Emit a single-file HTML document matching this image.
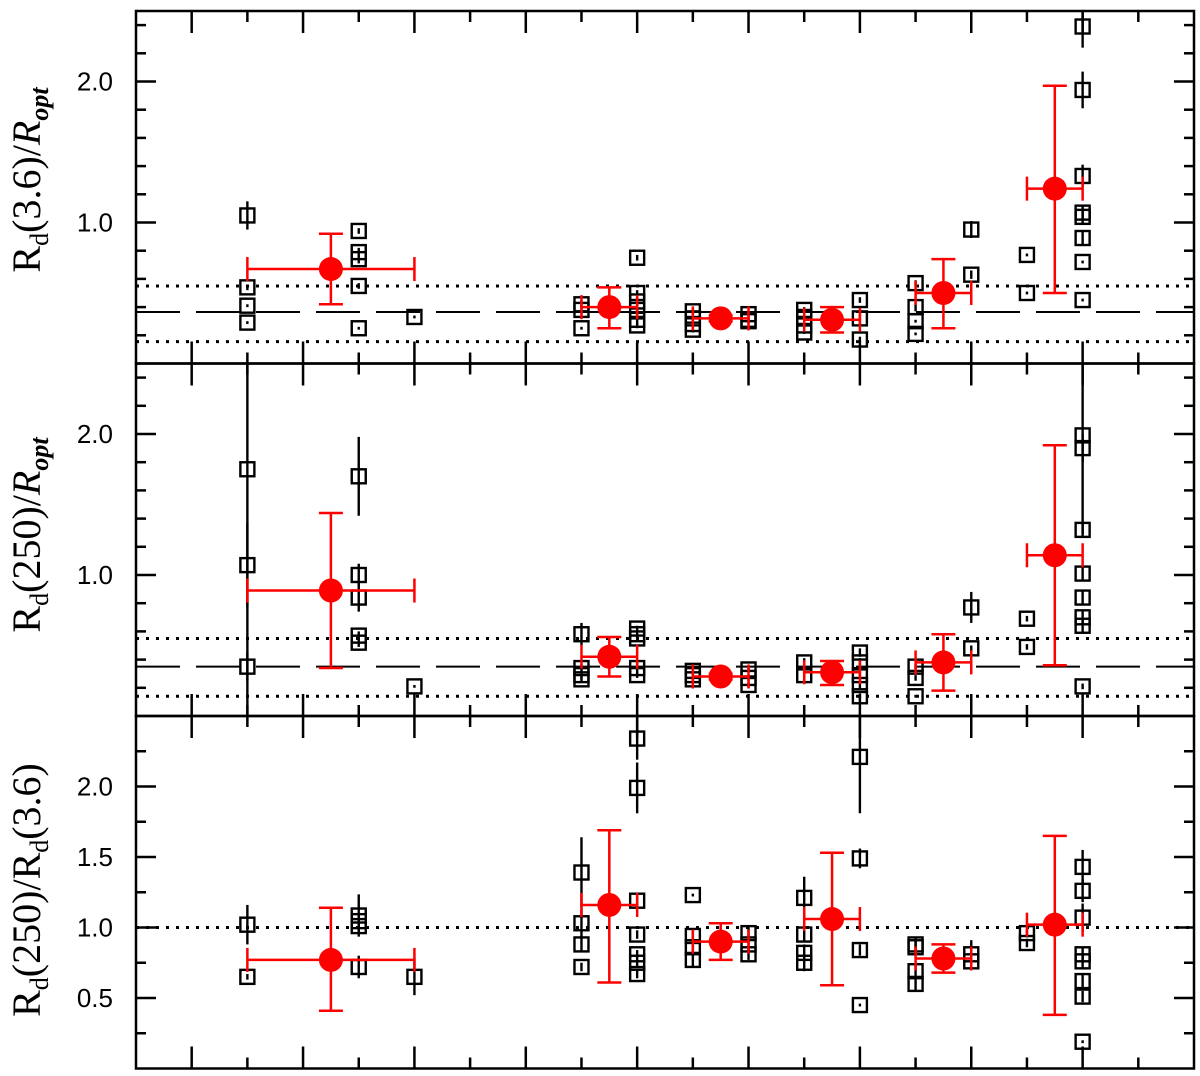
<!DOCTYPE html>
<html><head><meta charset="utf-8"><style>
html,body{margin:0;padding:0;background:#fff;}
svg{display:block;}
</style></head><body>
<svg id="chart" width="1200" height="1076" viewBox="0 0 1200 1076" xmlns="http://www.w3.org/2000/svg">
<defs>
<clipPath id="c0"><rect x="136" y="11" width="1058" height="352.5"/></clipPath>
<clipPath id="c1"><rect x="136" y="363.5" width="1058" height="352.5"/></clipPath>
<clipPath id="c2"><rect x="136" y="716" width="1058" height="352.5"/></clipPath>
</defs>
<g id="titles" font-family="Liberation Serif, serif" font-size="40" fill="#000">
<text transform="translate(40,180) rotate(-90)" text-anchor="middle">R<tspan font-size="26" dy="8">d</tspan><tspan dy="-8">(3.6)/</tspan><tspan font-style="italic">R</tspan><tspan font-size="26" font-style="italic" font-weight="bold" dy="8">opt</tspan></text>
<text transform="translate(40,535) rotate(-90)" text-anchor="middle">R<tspan font-size="26" dy="8">d</tspan><tspan dy="-8">(250)/</tspan><tspan font-style="italic">R</tspan><tspan font-size="26" font-style="italic" font-weight="bold" dy="8">opt</tspan></text>
<text transform="translate(40,890) rotate(-90)" text-anchor="middle">R<tspan font-size="26" dy="8">d</tspan><tspan dy="-8">(250)/R</tspan><tspan font-size="26" dy="8">d</tspan><tspan dy="-8">(3.6)</tspan></text>
</g>
</svg>
<script>
const xTickCount = 19;
const topLabels = [1.0, 2.0];
const midLabels = [1.0, 2.0];
const botLabels = [0.5, 1.0, 1.5, 2.0];
const topRefLines = [0.365, 0.55, 0.155];
const midRefLines = [0.35, 0.55, 0.14];
const botRefLines = [1.0];
// black points: [x, value, error]
const topPoints = [[2,1.05,.10],[2,.54,.02],[2,.41,.01],[2,.29,.01],[4,.94,.02],[4,.79,.03],[4,.74,.03],[4,.55,.02],[4,.25,.01],[5,.33,.01],[8,.42,.03],[8,.38,.03],[8,.25,.01],[9,.75,.02],[9,.50,.02],[9,.44,.03],[9,.38,.03],[9,.31,.03],[9,.27,.02],[10,.37,.02],[10,.32,.02],[10,.28,.02],[10,.24,.02],[11,.35,.02],[11,.31,.02],[11,.30,.02],[12,.38,.02],[12,.33,.02],[12,.27,.02],[12,.22,.01],[13,.45,.02],[13,.32,.05],[13,.17,.02],[14,.57,.02],[14,.40,.03],[14,.30,.01],[14,.21,.01],[15,.95,.06],[15,.63,.03],[16,.77,.01],[16,.50,.01],[17,2.39,.15],[17,1.94,.13],[17,1.33,.08],[17,1.07,.05],[17,1.04,.05],[17,.89,.05],[17,.72,.01],[17,.45,.01]];
const midPoints = [[2,1.75,1.8],[2,1.07,.3],[2,.35,.1],[4,1.70,.28],[4,1.00,.08],[4,.84,.10],[4,.57,.03],[4,.52,.03],[5,.21,.01],[8,.58,.08],[8,.34,.03],[8,.29,.03],[8,.26,.02],[9,.62,.02],[9,.58,.02],[9,.55,.02],[9,.34,.04],[9,.29,.02],[10,.32,.02],[10,.29,.02],[10,.26,.02],[11,.33,.02],[11,.27,.02],[11,.22,.02],[12,.38,.03],[12,.29,.03],[13,.45,.03],[13,.38,.03],[13,.29,.03],[13,.22,.03],[13,.14,.02],[14,.35,.02],[14,.27,.02],[14,.14,.01],[15,.77,.11],[15,.48,.02],[16,.69,.02],[16,.49,.02],[17,1.99,.7],[17,1.90,.1],[17,1.32,.05],[17,1.01,.05],[17,.84,.05],[17,.70,.05],[17,.64,.05],[17,.21,.02]];
const botPoints = [[2,1.02,.14],[2,.65,.02],[4,1.085,.15],[4,1.045,.05],[4,1.01,.05],[4,.72,.08],[5,.65,.13],[8,1.39,.25],[8,1.03,.1],[8,.88,.05],[8,.72,.03],[9,2.34,.15],[9,1.99,.18],[9,1.19,.05],[9,.95,.03],[9,.81,.03],[9,.75,.03],[9,.67,.03],[10,1.23,.01],[10,.94,.05],[10,.86,.05],[10,.77,.05],[11,.96,.04],[11,.88,.04],[11,.81,.04],[12,1.21,.15],[12,.95,.05],[12,.82,.06],[12,.75,.06],[13,2.21,.4],[13,1.49,.07],[13,.84,.04],[13,.45,.01],[14,.88,.05],[14,.86,.05],[14,.69,.05],[14,.60,.05],[15,.81,.1],[15,.76,.05],[16,.96,.03],[16,.89,.03],[17,1.43,.12],[17,1.26,.08],[17,1.07,.1],[17,.81,.05],[17,.76,.05],[17,.62,.05],[17,.51,.04],[17,.19,.01]];
// red means: [x, value, yHigh, yLow, xLow, xHigh]
const topMeans = [[3.5,.67,.92,.42,2,5],[8.5,.40,.54,.25,8,9],[10.5,.32,.34,.30,10,11],[12.5,.31,.40,.22,12,13],[14.5,.50,.74,.25,14,15],[16.5,1.24,1.97,.50,16,17]];
const midMeans = [[3.5,.89,1.44,.34,2,5],[8.5,.42,.56,.28,8,9],[10.5,.28,.30,.26,10,11],[12.5,.31,.39,.22,12,13],[14.5,.38,.58,.18,14,15],[16.5,1.14,1.92,.36,16,17]];
const botMeans = [[3.5,.77,1.14,.41,2,5],[8.5,1.16,1.69,.61,8,9],[10.5,.90,1.03,.77,10,11],[12.5,1.06,1.53,.59,12,13],[14.5,.78,.88,.68,14,15],[16.5,1.02,1.65,.38,16,17]];

const NS = "http://www.w3.org/2000/svg";
const svg = document.getElementById('chart');
const L = 136, R = 1194, PH = 352.5, PX = (R - L) / xTickCount, PY = 141;
const tops = [11, 363.5, 716];
function X(u){ return L + u * PX; }
function Y(v, p){ return tops[p] + PH - v * PY; }
function mk(tag, attrs, parent){
  const e = document.createElementNS(NS, tag);
  for (const k in attrs) e.setAttribute(k, attrs[k]);
  (parent || svg).appendChild(e);
  return e;
}
function line(x1,y1,x2,y2,stroke,w,parent,dash){
  const e = mk('line',{x1:x1,y1:y1,x2:x2,y2:y2,stroke:stroke,'stroke-width':w},parent);
  if (dash) e.setAttribute('stroke-dasharray', dash);
  return e;
}
const panels = [
  {pts: topPoints, means: topMeans, refs: topRefLines, labels: topLabels, minor: 0.2, major: 1.0, name:'top'},
  {pts: midPoints, means: midMeans, refs: midRefLines, labels: midLabels, minor: 0.2, major: 1.0, name:'middle'},
  {pts: botPoints, means: botMeans, refs: botRefLines, labels: botLabels, minor: 0.25, major: 0.5, name:'bottom'}
];
panels.forEach((P, p) => {
  const g = mk('g', {'clip-path': 'url(#c' + p + ')'});
  
  
  P.refs.forEach((v, i) => {
    const dashed = (p < 2 && i === 0);
    const ln = line(L, Y(v,p), R, Y(v,p), '#000', dashed ? 2 : 3, g, dashed ? '44,16' : '3,7');
    
    
  });
  P.pts.forEach(d => {
    const cx = X(d[0]), cy = Y(d[1], p);
    const eb = line(cx, Y(d[1]+d[2],p), cx, Y(d[1]-d[2],p), '#000', 2.4, g);
    
    
    const sq = mk('rect', {x: cx-7, y: cy-7, width: 14, height: 14, fill: 'none', stroke: '#000', 'stroke-width': 2.4}, g);
    
    
  });
  P.means.forEach(d => {
    const cx = X(d[0]), cy = Y(d[1], p);
    const gm = mk('g', {stroke: '#f00', 'stroke-width': 2.5}, g);
    
    
    line(cx, Y(d[2],p), cx, Y(d[3],p), '#f00', 2.5, gm);
    line(cx-12, Y(d[2],p), cx+12, Y(d[2],p), '#f00', 2.5, gm);
    line(cx-12, Y(d[3],p), cx+12, Y(d[3],p), '#f00', 2.5, gm);
    line(X(d[4]), cy, X(d[5]), cy, '#f00', 2.5, gm);
    line(X(d[4]), cy-12, X(d[4]), cy+12, '#f00', 2.5, gm);
    line(X(d[5]), cy-12, X(d[5]), cy+12, '#f00', 2.5, gm);
    mk('circle', {cx: cx, cy: cy, r: 12, fill: '#f00', stroke: 'none'}, gm);
  });
  const fr = mk('rect', {x: L, y: tops[p], width: R-L, height: PH, fill: 'none', stroke: '#000', 'stroke-width': 2.5});
  
  
  for (let k = 1; k < xTickCount; k++) {
    const len = (k % 2 === 1) ? 22 : 11;
    line(X(k), tops[p], X(k), tops[p]+len, '#000', 2.5);
    line(X(k), tops[p]+PH, X(k), tops[p]+PH-len, '#000', 2.5);
  }
  const n = Math.round(2.5 / P.minor);
  for (let k = 1; k < n; k++) {
    const v = k * P.minor;
    const isMaj = Math.abs(v/P.major - Math.round(v/P.major)) < 1e-6;
    const len = isMaj ? 20 : 10;
    line(L, Y(v,p), L+len, Y(v,p), '#000', 2.5);
    line(R, Y(v,p), R-len, Y(v,p), '#000', 2.5);
  }
  P.labels.forEach(v => {
    const t = mk('text', {x: 113, y: Y(v,p)+9, 'text-anchor': 'end', 'font-family': 'Liberation Sans, sans-serif', 'font-size': 26, fill: '#000'});
    t.textContent = v.toFixed(1);
    
    
  });
});
</script>
</body></html>
